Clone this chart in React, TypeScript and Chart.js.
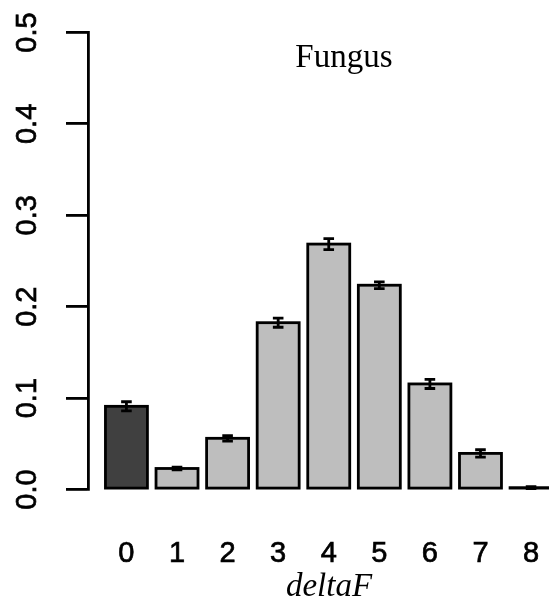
import React, { useEffect, useRef } from 'react';
import { Chart, registerables } from 'chart.js';

Chart.register(...registerables);

const categories = ['0', '1', '2', '3', '4', '5', '6', '7', '8'];
const proportions = [0.091, 0.023, 0.056, 0.1825, 0.2685, 0.2235, 0.1155, 0.0395, 0.002];
const errors = [0.005, 0.0015, 0.003, 0.005, 0.006, 0.0037, 0.005, 0.004, 0.001];
const barColors = ['#404040', '#bebebe', '#bebebe', '#bebebe', '#bebebe', '#bebebe', '#bebebe', '#bebebe', '#bebebe'];
const yTicks = [0, 0.1, 0.2, 0.3, 0.4, 0.5];
const panelTitle = 'Fungus';
const xAxisTitle = 'deltaF';

const CANVAS_W = 570;
const CANVAS_H = 608;
const LINE_W = 2.8;

// R-style bar outline: stroke centred on the bar edges
const barOutlinePlugin = {
  id: 'barOutline',
  afterDatasetsDraw(chart: any) {
    const meta = chart.getDatasetMeta(0);
    const ctx = chart.ctx;
    ctx.save();
    ctx.strokeStyle = '#000';
    ctx.lineWidth = LINE_W;
    ctx.lineJoin = 'miter';
    meta.data.forEach((el: any) => {
      const { x, y, base, width } = el.getProps(['x', 'y', 'base', 'width'], true);
      const top = Math.min(y, base);
      const h = Math.abs(base - y);
      ctx.strokeRect(x - width / 2, top, width, h);
    });
    ctx.restore();
  },
};

const errorBarPlugin = {
  id: 'errorBars',
  afterDatasetsDraw(chart: any) {
    const meta = chart.getDatasetMeta(0);
    const yScale = chart.scales.y;
    const ctx = chart.ctx;
    ctx.save();
    ctx.strokeStyle = '#000';
    ctx.lineWidth = LINE_W;
    ctx.lineCap = 'butt';
    meta.data.forEach((el: any, i: number) => {
      const v = proportions[i];
      const e = errors[i];
      const x = el.x;
      const yHi = yScale.getPixelForValue(v + e);
      const yLo = yScale.getPixelForValue(v - e);
      const half = 5.3;
      ctx.beginPath();
      ctx.moveTo(x, yHi);
      ctx.lineTo(x, yLo);
      ctx.moveTo(x - half, yHi);
      ctx.lineTo(x + half, yHi);
      ctx.moveTo(x - half, yLo);
      ctx.lineTo(x + half, yLo);
      ctx.stroke();
    });
    ctx.restore();
  },
};

const panelTitlePlugin = {
  id: 'panelTitle',
  afterDraw(chart: any) {
    const ctx = chart.ctx;
    const xs = chart.scales.x;
    const ys = chart.scales.y;
    ctx.save();
    ctx.fillStyle = '#000';
    ctx.font = '33px "Liberation Serif", "Times New Roman", serif';
    ctx.textAlign = 'center';
    ctx.textBaseline = 'alphabetic';
    ctx.fillText(panelTitle, xs.getPixelForValue(4.3), ys.getPixelForValue(0.462));
    ctx.restore();
  },
};

export default function App() {
  const canvasRef = useRef<HTMLCanvasElement | null>(null);

  useEffect(() => {
    if (!canvasRef.current) return;
    const chart = new Chart(canvasRef.current, {
      type: 'bar',
      data: {
        datasets: [
          {
            data: proportions.map((v, i) => ({ x: i, y: v })),
            backgroundColor: barColors,
            borderWidth: 0,
            barPercentage: 0.83,
            categoryPercentage: 1,
          },
        ],
      },
      options: {
        responsive: false,
        animation: false,
        layout: { padding: { top: 32.5, left: 0, right: 0, bottom: 0 } },
        plugins: {
          legend: { display: false },
          tooltip: { enabled: false },
          title: { display: false },
        },
        scales: {
          x: {
            type: 'linear',
            offset: false,
            min: -0.76,
            max: 8.77,
            grid: { display: false, drawTicks: false, offset: false },
            border: { display: false },
            ticks: {
              color: '#000',
              font: { family: '"Liberation Sans", Arial, sans-serif', size: 29 },
              textStrokeColor: '#000',
              textStrokeWidth: 0.7,
              padding: 47,
              maxRotation: 0,
              minRotation: 0,
              callback: (v: any) => categories[Math.round(Number(v))] ?? '',
            },
            afterBuildTicks: (scale: any) => {
              scale.ticks = categories.map((_, i) => ({ value: i }));
            },
            afterFit: (scale: any) => {
              scale.height = CANVAS_H - 489.5;
              scale.paddingLeft = 0;
              scale.paddingRight = 0;
            },
            title: {
              display: true,
              text: xAxisTitle,
              color: '#000',
              font: { family: '"Liberation Serif", "Times New Roman", serif', size: 33, style: 'italic' },
              padding: { top: 0, bottom: 1 },
            },
          },
          y: {
            type: 'linear',
            min: 0,
            max: 0.5,
            grid: {
              display: true,
              drawOnChartArea: false,
              drawTicks: true,
              tickLength: 22,
              color: '#000',
              lineWidth: LINE_W,
            },
            border: { display: true, color: '#000', width: LINE_W },
            ticks: {
              color: '#000',
              font: { family: '"Liberation Sans", Arial, sans-serif', size: 29 },
              textStrokeColor: '#000',
              textStrokeWidth: 0.7,
              padding: 18,
              minRotation: 90,
              maxRotation: 90,
              crossAlign: 'center',
              callback: (v: any) => Number(v).toFixed(1),
            },
            afterBuildTicks: (scale: any) => {
              scale.ticks = yTicks.map((t) => ({ value: t }));
            },
            afterFit: (scale: any) => {
              scale.width = 88;
              scale.paddingTop = 0;
              scale.paddingBottom = 0;
            },
          },
        },
      },
      plugins: [barOutlinePlugin, errorBarPlugin, panelTitlePlugin],
    } as any);
    return () => chart.destroy();
  }, []);

  return (
    <div
      style={{
        position: 'fixed',
        left: 0,
        top: 0,
        width: 549,
        height: 608,
        overflow: 'hidden',
        background: '#fff',
      }}
    >
      <canvas
        ref={canvasRef}
        width={CANVAS_W}
        height={CANVAS_H}
        style={{ display: 'block', width: CANVAS_W, height: CANVAS_H }}
      />
    </div>
  );
}
